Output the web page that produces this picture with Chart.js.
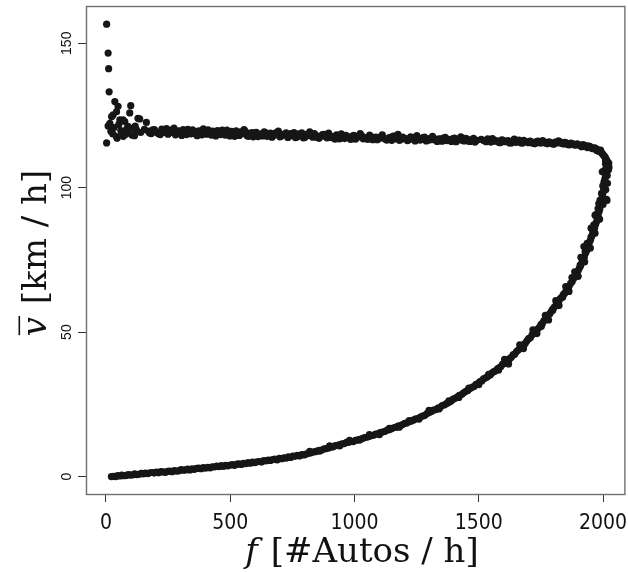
<!DOCTYPE html>
<html>
<head>
<meta charset="utf-8">
<script src="https://cdn.jsdelivr.net/npm/chart.js@4"></script>
<style>
  html, body { margin: 0; padding: 0; background: #ffffff; }
  #wrap { width: 628px; height: 572px; }
</style>
</head>
<body>
<div id="wrap"><canvas id="chart" width="628" height="572"></canvas></div>
<script>
// Axis ticks
const flowTicks = [0, 500, 1000, 1500, 2000];
const speedTicks = [0, 50, 100, 150];

// Free-flow branch: flow [#Autos / h] and mean speed [km / h]
const flowFree = [
  3, 9, 11, 13, 3, 16, 23, 36, 49, 43, 100, 96, 69, 9, 29, 56, 76, 89, 129, 136,
  163, 45, 43, 60, 80, 110, 123, 20, 33, 52, 66, 84, 105, 118, 140, 155, 28, 70, 92, 115,
  170, 182, 195, 206, 219, 231, 244, 255, 268, 280, 293, 305, 318, 330, 343, 356, 367, 380, 392, 405,
  417, 430, 442, 455, 468, 480, 493, 505, 518, 530, 543, 556, 568, 580, 593, 605, 618, 631, 643, 656,
  668, 681, 694, 706, 719, 732, 744, 757, 770, 782, 795, 808, 820, 833, 846, 858, 871, 884, 896, 909,
  922, 934, 947, 960, 972, 985, 998, 1010, 1023, 1036, 1048, 1061, 1074, 1086, 1099, 1112, 1124, 1137, 1150, 1162,
  1175, 1188, 1200, 1213, 1226, 1238, 1251, 1264, 1276, 1289, 1302, 1314, 1327, 1340, 1352, 1365, 1378, 1390, 1403, 1416,
  1428, 1441, 1454, 1466, 1479, 1492, 1510, 1530, 1542, 1555, 1567, 1580, 1593, 1605, 1618, 1631, 1643, 1656, 1669, 1681,
  1694, 1707, 1719, 1732, 1745, 1757, 1770, 1783, 1795, 1808, 1821, 1833, 1846, 1858, 1871, 1884, 1896, 1908, 1920, 1931,
  1942, 1952, 1961, 1970, 1978, 1986, 1993, 2000, 2006, 2011, 2016, 2021, 2024,
  176, 188, 200, 213, 225, 237, 250, 262, 274, 287,
  299, 311, 324, 336, 349, 361, 374, 386, 399, 411,
  424, 436, 449, 461, 474, 487, 499, 512, 524, 537,
  549, 562, 574, 587, 599, 612, 624, 637, 649, 662,
  675, 687, 700, 712, 725, 738, 750, 763, 776, 788,
  801, 814, 826, 839, 852, 864, 877, 890, 902, 915,
  928, 940, 953, 966, 978, 991, 1004, 1016, 1029, 1042,
  1054, 1067, 1080, 1092, 1105, 1118, 1130, 1143, 1156, 1168,
  1181, 1194, 1206, 1219, 1232, 1244, 1257, 1270, 1282, 1295,
  1308, 1320, 1333, 1346, 1358, 1371, 1384, 1396, 1409, 1422,
  1434, 1447, 1460, 1472, 1485, 1520, 1536, 1549, 1561, 1574,
  1586, 1599, 1612, 1624, 1637, 1650, 1662, 1675, 1688, 1700,
  1713, 1726, 1738, 1751, 1764, 1776, 1789, 1802, 1814, 1827,
  1840, 1852, 1865, 1877, 1890, 1902, 1914, 1926, 1937, 1947,
  1957, 1966, 1974, 1982, 1990, 1997, 2003, 2009, 2014, 2019
];
const speedFree = [
  156.6, 146.6, 141.2, 133.2, 115.5, 122.3, 124.6, 129.8, 128.2, 126.3, 128.4, 125.9, 123.5, 121.4, 125.2, 123.5, 122.9, 121.2, 124.0, 123.8,
  122.6, 117.1, 117.7, 119.8, 118.5, 120.6, 120.0, 119.5, 120.8, 121.9, 119.0, 120.4, 118.2, 121.3, 119.1, 120.2, 118.6, 117.8, 119.9, 118.0,
  119.6, 118.7, 120.1, 119.0, 118.4, 119.8, 120.5, 118.9, 119.2, 118.3, 119.7, 118.1, 119.4, 120.2, 118.6, 119.3, 118.0, 119.1, 120.4, 118.5,
  118.9, 119.6, 117.9, 118.7, 119.9, 118.2, 118.8, 119.5, 117.8, 118.4, 119.3, 120.1, 118.0, 118.6, 117.6, 119.2, 118.3, 117.9, 119.0, 118.5,
  117.5, 118.8, 119.6, 117.9, 118.3, 117.4, 118.7, 119.1, 117.6, 118.2, 117.2, 118.5, 119.3, 117.5, 118.0, 117.1, 118.4, 117.7, 118.9, 117.3,
  116.8, 117.9, 118.6, 117.0, 117.6, 116.7, 118.1, 117.4, 118.7, 116.9, 117.3, 118.2, 116.6, 117.5, 117.0, 118.3, 116.8, 117.2, 116.4, 117.8,
  118.5, 116.7, 117.1, 116.3, 117.6, 116.9, 118.0, 116.5, 117.3, 116.2, 117.0, 117.8, 116.4, 116.9, 116.1, 117.4, 116.7, 116.0, 117.2, 116.5,
  117.6, 116.2, 116.8, 116.0, 117.1, 116.4, 116.7, 115.9, 116.5, 117.0, 116.1, 115.7, 116.6, 115.9, 116.3, 115.5, 116.8, 116.0, 115.6, 116.4,
  115.8, 116.1, 115.3, 116.0, 115.6, 116.3, 115.4, 115.9, 115.2, 115.8, 116.2, 115.3, 115.7, 114.9, 115.4, 114.8, 115.2, 114.6, 114.9, 114.6,
  114.4, 114.0, 113.6, 113.6, 113.2, 112.8, 112.2, 111.4, 110.8, 110.0, 109.0, 108.0, 107.0,
  118.9, 120.0, 119.4, 118.6, 120.3, 119.1, 118.5, 119.9, 120.6, 118.8,
  119.5, 120.1, 118.4, 119.0, 120.0, 118.7, 119.7, 118.3, 119.2, 120.0,
  118.2, 119.1, 119.8, 118.4, 119.0, 119.9, 117.9, 118.9, 119.7, 118.1,
  118.7, 119.4, 117.8, 119.1, 118.9, 117.7, 118.6, 119.3, 117.8, 118.9,
  118.1, 119.2, 117.6, 118.5, 119.0, 117.8, 118.2, 117.3, 118.6, 119.0,
  117.5, 118.1, 117.9, 118.7, 117.3, 117.8, 118.5, 117.2, 118.0, 117.6,
  118.3, 116.9, 117.4, 118.1, 117.2, 117.9, 116.8, 117.6, 118.0, 117.1,
  116.7, 117.7, 117.3, 116.6, 117.6, 117.1, 116.5, 117.4, 117.9, 116.9,
  116.4, 117.5, 117.0, 116.6, 117.3, 116.2, 117.1, 116.8, 117.5, 116.4,
  116.6, 117.1, 116.0, 116.8, 117.2, 116.3, 116.6, 117.0, 115.9, 116.8,
  116.4, 117.1, 116.1, 116.6, 115.8, 116.3, 116.9, 115.8, 116.5, 116.2,
  115.6, 116.4, 116.0, 115.5, 116.2, 115.7, 116.5, 115.4, 116.0, 115.6,
  115.8, 115.2, 116.1, 115.5, 115.9, 115.2, 115.6, 115.0, 115.5, 115.9,
  115.1, 115.5, 114.8, 115.3, 114.7, 114.9, 114.2, 114.4, 113.9, 114.3,
  113.5, 113.8, 112.9, 112.6, 113.0, 111.8, 111.2, 110.5, 109.6, 108.6
];

// Congested branch: flow [#Autos / h] and mean speed [km / h]
const flowJam = [
  22, 31, 39, 47, 56, 64, 73, 81, 90, 98, 107, 116, 124, 133, 142, 150, 159, 168, 177, 186,
  194, 203, 212, 221, 230, 239, 248, 257, 266, 275, 284, 293, 302, 311, 320, 329, 338, 347, 356, 365,
  374, 383, 392, 401, 410, 419, 428, 437, 446, 455, 464, 473, 482, 491, 500, 509, 518, 527, 536, 545,
  554, 563, 572, 581, 590, 599, 608, 617, 626, 635, 644, 653, 662, 671, 680, 689, 698, 707, 716, 725,
  734, 743, 752, 761, 770, 779, 788, 797, 806, 815, 824, 833, 842, 851, 860, 869, 878, 887, 896, 905,
  914, 923, 932, 941, 950, 959, 968, 977, 986, 995, 1004, 1013, 1022, 1031, 1040, 1049, 1058, 1067, 1076, 1085,
  1094, 1103, 1112, 1121, 1130, 1139, 1148, 1157, 1166, 1175, 1184, 1193, 1202, 1211, 1220, 1229, 1238, 1247, 1256, 1265,
  1274, 1283, 1292, 1301, 1310, 1318, 1327, 1336, 1345, 1353, 1362, 1371, 1380, 1388, 1397, 1405, 1414, 1422, 1431, 1439,
  1448, 1456, 1464, 1473, 1481, 1489, 1497, 1505, 1512, 1519, 1526, 1533, 1540, 1547, 1554, 1561, 1568, 1575, 1582, 1589,
  1596, 1603, 1610, 1617, 1624, 1631, 1638, 1645, 1652, 1659, 1666, 1673, 1680, 1687, 1694, 1701, 1708, 1715, 1722, 1729,
  1736, 1743, 1750, 1756, 1762, 1768, 1774, 1780, 1786, 1792, 1798, 1804, 1810, 1816, 1822, 1828, 1834, 1840, 1846, 1852,
  1858, 1864, 1870, 1876, 1882, 1888, 1894, 1900, 1905, 1910, 1915, 1920, 1925, 1930, 1934, 1938, 1942, 1946, 1950, 1954,
  1958, 1962, 1966, 1970, 1974, 1977, 1980, 1984, 1987, 1990, 1993, 1996, 1998, 2001, 2003, 2006, 2004, 2008, 2010, 2007,
  2012, 2016, 2010, 2019, 2014, 1983, 2018, 1997, 2022, 1968, 1952, 1923, 2016, 2023,
  1620, 1604, 1665, 1680, 1718, 1734, 1768, 1781, 1810, 1823,
  1850, 1863, 1886, 1900, 1911, 1926, 1936, 1949, 1955, 1968,
  1973, 1986, 1988, 2000, 1999, 2011, 2004, 2017, 2010, 2021,
  1643, 1701, 1752, 1797, 1838, 1875, 1908, 1928, 1952, 1963,
  1980, 1994, 2006, 2012, 820, 860, 900, 940, 980, 1020,
  1060, 1100, 1140, 1180, 1220, 1260, 1300, 1340, 1380, 1420,
  1460, 1500, 1540, 1580
];
const speedJam = [
  0.0, 0.1, 0.0, 0.3, 0.2, 0.5, 0.3, 0.4, 0.7, 0.5, 0.6, 0.9, 0.7, 0.8, 1.1, 0.9, 1.2, 1.0, 1.3, 1.4,
  1.2, 1.5, 1.3, 1.7, 1.6, 1.4, 1.8, 1.9, 1.7, 2.1, 1.9, 2.0, 2.4, 2.2, 2.3, 2.6, 2.3, 2.7, 2.5, 2.8,
  2.9, 2.7, 3.1, 2.9, 3.2, 3.0, 3.4, 3.3, 3.6, 3.4, 3.8, 3.5, 3.9, 3.7, 4.0, 4.1, 3.9, 4.3, 4.4, 4.2,
  4.6, 4.5, 4.8, 4.6, 5.0, 4.8, 5.1, 5.2, 5.0, 5.5, 5.4, 5.7, 5.6, 5.9, 6.0, 5.8, 6.3, 6.2, 6.5, 6.4,
  6.8, 6.6, 7.1, 7.0, 7.3, 7.1, 7.6, 7.5, 7.8, 8.1, 8.2, 8.5, 8.6, 8.9, 9.1, 9.2, 9.6, 9.7, 9.9, 10.2,
  10.3, 10.7, 10.8, 11.1, 11.3, 11.4, 11.8, 11.9, 12.2, 12.1, 12.5, 12.7, 12.9, 13.1, 13.5, 13.6, 13.9, 14.2, 14.3, 14.7,
  14.8, 15.2, 15.4, 15.6, 16.0, 16.2, 16.5, 16.9, 17.0, 17.5, 17.6, 18.0, 18.4, 18.5, 19.0, 19.2, 19.6, 20.0, 20.1, 20.6,
  20.9, 21.2, 21.8, 22.2, 22.5, 23.0, 23.2, 23.7, 24.0, 24.6, 24.8, 25.3, 25.7, 26.1, 26.8, 27.1, 27.6, 28.1, 28.4, 29.0,
  29.5, 29.8, 30.4, 30.9, 31.2, 31.9, 32.2, 32.9, 33.1, 33.8, 34.1, 34.4, 35.0, 35.2, 35.9, 36.3, 36.6, 37.3, 37.6, 38.1,
  38.9, 39.2, 39.6, 40.4, 40.8, 41.3, 42.1, 42.4, 43.3, 43.8, 44.3, 45.2, 45.6, 46.1, 47.0, 47.7, 48.1, 49.1, 49.5, 50.4,
  51.0, 51.6, 52.6, 53.0, 53.9, 54.5, 55.1, 55.9, 56.4, 57.2, 57.6, 58.7, 59.1, 60.0, 60.5, 61.6, 62.0, 63.0, 63.5, 64.5,
  65.2, 66.0, 66.9, 67.5, 68.6, 69.4, 70.2, 71.3, 72.2, 73.0, 74.1, 75.3, 76.0, 77.4, 78.2, 79.3, 80.0, 81.2, 82.0, 83.1,
  84.0, 85.2, 86.0, 87.3, 88.2, 89.5, 90.4, 91.7, 92.6, 93.9, 95.0, 96.2, 97.3, 98.5, 99.6, 100.8, 101.9, 103.1, 104.0, 105.2,
  106.3, 107.4, 108.3, 108.9, 96.0, 94.5, 101.5, 105.5, 106.2, 90.5, 86.0, 79.6, 95.6, 108.5,
  39.0, 40.6, 45.6, 44.3, 50.8, 49.5, 55.8, 54.2, 60.9, 59.2,
  65.8, 64.1, 70.9, 69.3, 75.9, 74.3, 80.7, 79.1, 85.8, 84.2,
  90.8, 89.1, 95.7, 94.2, 100.6, 99.3, 105.8, 104.2, 109.3, 107.0,
  42.3, 47.8, 52.0, 57.9, 62.2, 68.9, 73.2, 77.8, 83.0, 87.1,
  92.8, 98.0, 102.4, 106.6, 8.7, 8.8, 10.6, 10.6, 12.5, 12.6,
  14.5, 14.5, 16.7, 17.1, 19.4, 19.9, 22.9, 23.4, 26.2, 27.4,
  30.6, 31.8, 35.4, 36.9
];

function toPoints(xs, ys) {
  return xs.map((x, i) => ({ x: x, y: ys[i] }));
}

const TICK_FONT_X = '21px "Liberation Sans Narrow", "DejaVu Sans Condensed", "Liberation Sans", sans-serif';
const TICK_FONT_Y = '14px "Liberation Sans", Arial, sans-serif';
const TITLE_FONT = '34px "DejaVu Serif", "Liberation Serif", serif';
const TITLE_FONT_IT = 'italic 34px "DejaVu Serif", "Liberation Serif", serif';

// Frame, tick labels and axis titles in the style of a base-graphics plot
const framePlugin = {
  id: 'frame',
  beforeDatasetsDraw(chart) {
    const { ctx, chartArea: a } = chart;
    ctx.save();
    ctx.strokeStyle = '#6e6e6e';
    ctx.lineWidth = 1.4;
    ctx.strokeRect(a.left + 0.5, a.top + 0.5, a.right - a.left, a.bottom - a.top);
    ctx.restore();
  },
  afterDraw(chart) {
    const { ctx, scales } = chart;
    const xs = scales.x, ys = scales.y;
    ctx.save();
    ctx.fillStyle = '#111111';

    // x tick labels
    ctx.font = TICK_FONT_X;
    ctx.textAlign = 'center';
    ctx.textBaseline = 'alphabetic';
    flowTicks.forEach(v => ctx.fillText(String(v), xs.getPixelForValue(v), 528.5));

    // y tick labels, reading upward
    ctx.font = TICK_FONT_Y;
    speedTicks.forEach(v => {
      ctx.save();
      ctx.translate(67, ys.getPixelForValue(v));
      ctx.rotate(-Math.PI / 2);
      ctx.textAlign = 'center';
      ctx.textBaseline = 'middle';
      ctx.fillText(String(v), 0, 0);
      ctx.restore();
    });

    // x title: f [#Autos / h]
    const xMain = ' [#Autos / h]';
    ctx.font = TITLE_FONT_IT;
    const wF = ctx.measureText('f').width;
    ctx.font = TITLE_FONT;
    const wMain = ctx.measureText(xMain).width;
    const x0 = 361 - (wF + wMain) / 2;
    ctx.textAlign = 'left';
    ctx.textBaseline = 'alphabetic';
    ctx.font = TITLE_FONT_IT;
    ctx.fillText('f', x0, 562);
    ctx.font = TITLE_FONT;
    ctx.fillText(xMain, x0 + wF + 2, 562);

    // y title: v-bar [km / h]
    const yMain = ' [km / h]';
    ctx.save();
    ctx.translate(45.5, 254);
    ctx.rotate(-Math.PI / 2);
    ctx.font = TITLE_FONT_IT;
    const wV = ctx.measureText('v').width;
    ctx.font = TITLE_FONT;
    const wY = ctx.measureText(yMain).width;
    const s0 = -(wV + wY) / 2;
    ctx.textAlign = 'left';
    ctx.font = TITLE_FONT_IT;
    ctx.fillText('v', s0, 0);
    ctx.fillRect(s0 + 1, -27, wV, 1.6);
    ctx.font = TITLE_FONT;
    ctx.fillText(yMain, s0 + wV + 2, 0);
    ctx.restore();

    ctx.restore();
  }
};

const pointStyle = {
  pointRadius: 3.6,
  pointHoverRadius: 3.6,
  pointBorderWidth: 0,
  pointBackgroundColor: '#161616',
  backgroundColor: '#161616',
  borderColor: '#161616',
  showLine: false
};

new Chart(document.getElementById('chart'), {
  type: 'scatter',
  data: {
    datasets: [
      Object.assign({ label: 'freier Fluss', data: toPoints(flowFree, speedFree) }, pointStyle),
      Object.assign({ label: 'Stau', data: toPoints(flowJam, speedJam) }, pointStyle)
    ]
  },
  options: {
    responsive: false,
    animation: false,
    events: [],
    devicePixelRatio: 1,
    layout: { padding: { top: 6, right: 0, bottom: 0, left: 0 } },
    plugins: { legend: { display: false }, tooltip: { enabled: false } },
    scales: {
      x: {
        type: 'linear',
        min: -80,
        max: 2086,
        afterBuildTicks: s => { s.ticks = flowTicks.map(v => ({ value: v })); },
        afterFit: s => { s.height = 78; },
        ticks: { display: false },
        border: { display: false },
        grid: { drawOnChartArea: false, drawTicks: true, tickLength: 8, color: '#333333', lineWidth: 1 }
      },
      y: {
        type: 'linear',
        min: -6.04,
        max: 162.9,
        afterBuildTicks: s => { s.ticks = speedTicks.map(v => ({ value: v })); },
        afterFit: s => { s.width = 86; },
        ticks: { display: false },
        border: { display: false },
        grid: { drawOnChartArea: false, drawTicks: true, tickLength: 8, color: '#333333', lineWidth: 1 }
      }
    }
  },
  plugins: [framePlugin]
});
</script>
</body>
</html>
